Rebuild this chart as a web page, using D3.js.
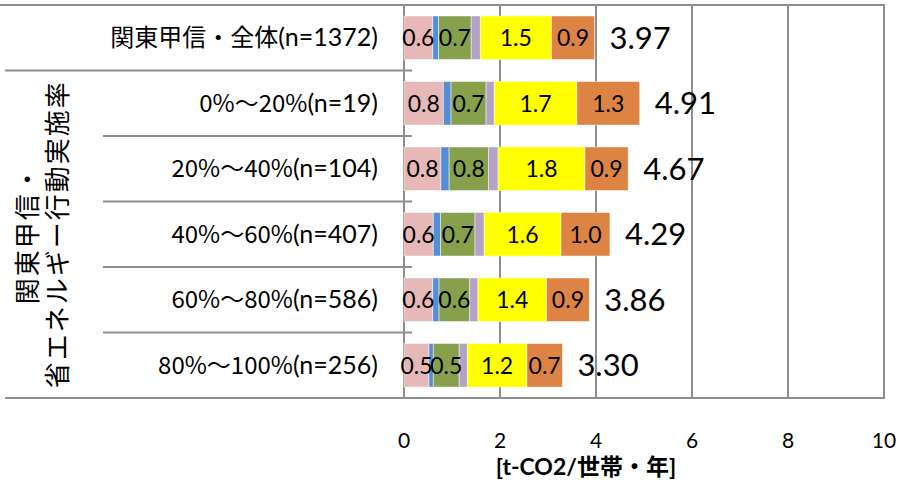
<!DOCTYPE html>
<html>
<head>
<meta charset="utf-8">
<script src="https://cdn.jsdelivr.net/npm/d3@7"></script>
<style>
  html, body { margin: 0; padding: 0; background: #fff; }
  svg { display: block; }
</style>
</head>
<body>
<svg id="chart" width="901" height="485"></svg>
<script>
// Rows, top to bottom
const categories = ["全体", "0-20", "20-40", "40-60", "60-80", "80-100"];
const categoryMain = ["関東甲信・全体", "0%～20%", "20%～40%", "40%～60%", "60%～80%", "80%～100%"];
const categoryN = ["(n=1372)", "(n=19)", "(n=104)", "(n=407)", "(n=586)", "(n=256)"];

// Stack segments, left to right
const seriesKeys = ["s1", "s2", "s3", "s4", "s5", "s6"];
const seriesColors = ["#E6B9B8", "#558ED5", "#86A04C", "#B3A2C7", "#FFFF00", "#DD8444"];
const labeledSeries = ["s1", "s3", "s5", "s6"];

const s1 = [0.60, 0.82, 0.77, 0.61, 0.60, 0.52];
const s2 = [0.12, 0.16, 0.17, 0.15, 0.13, 0.09];
const s3 = [0.68, 0.73, 0.82, 0.72, 0.64, 0.54];
const s4 = [0.19, 0.17, 0.20, 0.19, 0.17, 0.17];
const s5 = [1.48, 1.72, 1.81, 1.60, 1.43, 1.24];
const s6 = [0.90, 1.31, 0.90, 1.02, 0.89, 0.74];

const xTicks = [0, 2, 4, 6, 8, 10];
const xTitle = "[t-CO2/世帯・年]";
const groupTitle = ["関東甲信・", "省エネルギー行動実施率"];

const rows = categories.map((c, i) => ({
  key: c, s1: s1[i], s2: s2[i], s3: s3[i], s4: s4[i], s5: s5[i], s6: s6[i]
}));

const svg = d3.select("#chart");
const lineColor = "#8E8E8E";
const latin = "Lato, 'Noto Sans CJK JP', sans-serif";
const cjk = "'Noto Sans CJK JP', sans-serif";

const x = d3.scaleLinear().domain([0, 10]).range([404, 884]);
const y = d3.scaleBand().domain(categories).range([5, 398]).paddingInner(0.335).paddingOuter(0.1675);
const color = d3.scaleOrdinal().domain(seriesKeys).range(seriesColors);

// vertical gridlines
svg.append("g").selectAll("line").data(xTicks.slice(1)).join("line")
  .attr("x1", d => x(d)).attr("x2", d => x(d))
  .attr("y1", 5).attr("y2", 398)
  .attr("stroke", lineColor).attr("stroke-width", 2);

// table-like frame lines on the left
const step = y.step();
const frame = svg.append("g").attr("stroke", lineColor).attr("stroke-width", 2);
frame.append("line").attr("x1", 0).attr("x2", x(10) + 1).attr("y1", 5).attr("y2", 5);
frame.append("line").attr("x1", 5).attr("x2", x(10) + 1).attr("y1", 398).attr("y2", 398);
frame.append("line").attr("x1", 5).attr("x2", 412).attr("y1", 5 + step).attr("y2", 5 + step);
frame.selectAll("line.sep").data(d3.range(2, categories.length)).join("line")
  .attr("class", "sep")
  .attr("x1", 103).attr("x2", 412)
  .attr("y1", d => 5 + step * d).attr("y2", d => 5 + step * d);
frame.append("line").attr("x1", x(0)).attr("x2", x(0)).attr("y1", 5).attr("y2", 398);

// stacked bars
const stacked = d3.stack().keys(seriesKeys)(rows);
const layers = svg.append("g").selectAll("g").data(stacked).join("g")
  .attr("fill", d => color(d.key));
layers.selectAll("rect").data(d => d).join("rect")
  .attr("x", d => x(d[0]))
  .attr("y", d => y(d.data.key))
  .attr("width", d => x(d[1]) - x(d[0]))
  .attr("height", y.bandwidth())
  .attr("stroke", "#ffffff").attr("stroke-opacity", 0.6).attr("stroke-width", 0.8);

// segment value labels
const fmt = d3.format(".1f");
svg.append("g").selectAll("g").data(stacked.filter(s => labeledSeries.includes(s.key))).join("g")
  .selectAll("text").data(d => d).join("text")
  .attr("x", d => (x(d[0]) + x(d[1])) / 2)
  .attr("y", d => y(d.data.key) + y.bandwidth() / 2)
  .attr("dy", "0.36em")
  .attr("text-anchor", "middle")
  .attr("font-family", latin).attr("font-size", 23).attr("fill", "#000")
  .text(d => fmt(d[1] - d[0]));

// totals
const totals = rows.map(r => seriesKeys.reduce((a, k) => a + r[k], 0));
svg.append("g").selectAll("text").data(rows).join("text")
  .attr("x", (d, i) => x(totals[i]) + 15)
  .attr("y", d => y(d.key) + y.bandwidth() / 2)
  .attr("dy", "0.36em")
  .attr("font-family", latin).attr("font-size", 31).attr("fill", "#000")
  .text((d, i) => d3.format(".2f")(totals[i]));

// category labels: Japanese/percent part, then sample size
const catLabels = svg.append("g").selectAll("text").data(categories).join("text")
  .attr("x", 378)
  .attr("y", d => y(d) + y.bandwidth() / 2)
  .attr("dy", "0.36em")
  .attr("text-anchor", "end")
  .attr("font-size", 24)
  .attr("fill", "#000");
catLabels.append("tspan").attr("font-family", cjk).text((d, i) => categoryMain[i]);
catLabels.append("tspan").attr("font-family", latin).attr("font-size", 25).text((d, i) => categoryN[i]);

// rotated group title
const gCenter = 5 + step + (398 - 5 - step) / 2;
svg.append("g").selectAll("text").data(groupTitle).join("text")
  .attr("transform", (d, i) => `translate(${37 + i * 30},${gCenter}) rotate(-90)`)
  .attr("text-anchor", "middle")
  .attr("font-family", cjk).attr("font-size", 26).attr("letter-spacing", 2)
  .attr("fill", "#000")
  .text(d => d);

// x axis tick labels
svg.append("g").selectAll("text").data(xTicks).join("text")
  .attr("x", d => x(d))
  .attr("y", 448)
  .attr("text-anchor", "middle")
  .attr("font-family", latin).attr("font-size", 21).attr("fill", "#000")
  .text(d => d);

// axis title
svg.append("text")
  .attr("x", 586).attr("y", 475)
  .attr("text-anchor", "middle")
  .attr("font-family", latin).attr("font-size", 23).attr("font-weight", "bold")
  .attr("fill", "#000")
  .text(xTitle);
</script>
</body>
</html>
